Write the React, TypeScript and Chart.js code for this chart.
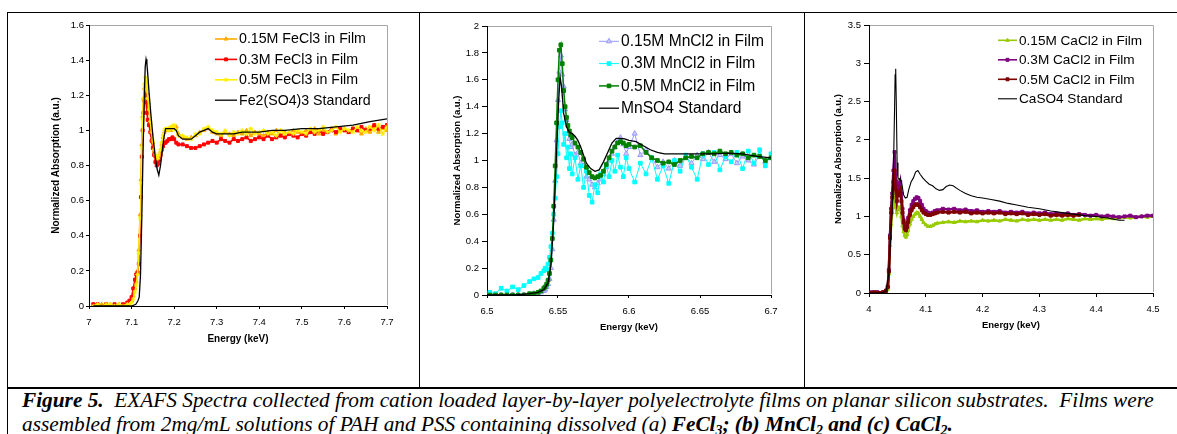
import React, { useEffect, useRef } from "react";
import { Chart, registerables } from "chart.js";

Chart.register(...registerables);

// ---------------- (a) FeCl3 ----------------
const FE_X = [
  7.01, 7.02, 7.03, 7.04, 7.05, 7.06, 7.07, 7.08, 7.09, 7.095, 7.1,
  7.104, 7.108, 7.111, 7.114, 7.117, 7.12, 7.122, 7.124, 7.126, 7.128, 7.13, 7.132, 7.134,
  7.136, 7.138, 7.141, 7.144, 7.147, 7.15, 7.153, 7.156, 7.159, 7.162, 7.165, 7.168, 7.171, 7.174, 7.177, 7.18,
  7.184, 7.188, 7.192, 7.196, 7.2, 7.205,
  7.21, 7.22, 7.23, 7.24, 7.25, 7.26, 7.27, 7.28, 7.29, 7.3,
  7.31, 7.32, 7.33, 7.34, 7.35, 7.36, 7.37, 7.38, 7.39, 7.4,
  7.41, 7.42, 7.43, 7.44, 7.45, 7.46, 7.47, 7.48, 7.49, 7.5,
  7.51, 7.52, 7.53, 7.54, 7.55, 7.56, 7.57, 7.58, 7.59, 7.6,
  7.61, 7.62, 7.63, 7.64, 7.65, 7.66, 7.67, 7.68, 7.69, 7.7,
];
const FE_015 = [
  0.01, 0.0, 0.01, 0.0, 0.01, 0.0, 0.01, 0.0, 0.01, 0.02, 0.03,
  0.06, 0.1, 0.14, 0.2, 0.32, 0.52, 0.72, 0.92, 1.08, 1.18, 1.24, 1.27, 1.25,
  1.21, 1.16, 1.1, 1.04, 0.98, 0.93, 0.88, 0.85, 0.83, 0.83, 0.85, 0.88, 0.92, 0.96, 0.99, 1.0,
  1.0, 1.01, 1.0, 1.02, 1.01, 1.02,
  0.98, 0.96, 0.95, 0.96, 0.97, 0.99, 1.0, 1.01, 0.99, 0.98,
  0.97, 0.99, 0.98, 0.97, 0.99, 0.98, 1.0, 0.97, 0.99, 0.98,
  0.97, 0.99, 0.98, 1.0, 0.97, 0.99, 0.98, 1.0, 0.99, 0.98,
  1.0, 0.99, 1.01, 0.98, 1.0, 0.99, 1.01, 0.98, 1.0, 1.01,
  0.99, 1.01, 1.0, 0.98, 1.01, 0.99, 1.02, 0.99, 1.01, 1.0,
];
const FE_03 = [
  0.01, 0.01, 0.0, 0.01, 0.0, 0.01, 0.0, 0.01, 0.02, 0.03, 0.05,
  0.1, 0.15, 0.18, 0.19, 0.24, 0.4, 0.62, 0.85, 1.0, 1.1, 1.17, 1.2, 1.16,
  1.1, 1.06, 1.03, 0.99, 0.94, 0.9, 0.86, 0.82, 0.8, 0.81, 0.83, 0.86, 0.89, 0.91, 0.93, 0.93,
  0.94, 0.95, 0.95, 0.96, 0.95, 0.93,
  0.92, 0.92, 0.91, 0.9, 0.9, 0.91, 0.92, 0.93, 0.94, 0.93,
  0.95, 0.94, 0.93, 0.95, 0.94, 0.95, 0.96, 0.94, 0.95, 0.96,
  0.95, 0.97, 0.95, 0.96, 0.97, 0.96, 0.98, 0.97, 0.96, 0.98,
  0.97, 0.99, 0.98, 1.0, 0.98, 0.99, 1.0, 0.99, 1.01, 1.0,
  0.99, 1.01, 1.0, 1.02, 1.0, 1.01, 1.03, 1.01, 1.02, 1.03,
];
const FE_05 = [
  0.0, 0.01, 0.0, 0.01, 0.01, 0.0, 0.01, 0.0, 0.01, 0.01, 0.02,
  0.04, 0.08, 0.12, 0.18, 0.3, 0.5, 0.7, 0.9, 1.06, 1.18, 1.26, 1.3, 1.28,
  1.24, 1.18, 1.12, 1.05, 0.99, 0.94, 0.89, 0.86, 0.84, 0.84, 0.86, 0.89, 0.93, 0.97, 1.0, 1.01,
  1.01, 1.0, 1.02, 1.01, 1.03, 1.0,
  0.97, 0.97, 0.96, 0.95, 0.98, 0.98, 1.01, 1.02, 1.0, 0.99,
  0.98, 1.0, 0.97, 0.99, 0.98, 1.0, 0.98, 1.01, 0.98, 0.99,
  1.0, 0.98, 0.99, 0.97, 1.0, 0.98, 0.99, 0.98, 1.0, 0.99,
  0.98, 1.01, 0.99, 1.0, 1.02, 0.99, 1.0, 1.02, 0.99, 1.01,
  1.0, 0.99, 1.02, 1.0, 0.99, 1.02, 1.0, 1.03, 0.98, 1.02,
];
const FE_STD_X = [
  7.01, 7.05, 7.1, 7.11, 7.115, 7.118, 7.121, 7.124, 7.127, 7.13, 7.132, 7.134, 7.136, 7.138, 7.141,
  7.145, 7.15, 7.155, 7.16, 7.164, 7.168, 7.172, 7.176, 7.18, 7.19, 7.2, 7.205, 7.21, 7.22, 7.23,
  7.24, 7.25, 7.26, 7.27, 7.28, 7.29, 7.3, 7.32, 7.34, 7.36, 7.38, 7.4, 7.43, 7.46, 7.5,
  7.54, 7.58, 7.62, 7.66, 7.7,
];
const FE_STD = [
  0, 0, 0, 0.01, 0.03, 0.05, 0.18, 0.5, 0.88, 1.2, 1.36, 1.405, 1.38, 1.32, 1.22,
  1.1, 0.97, 0.86, 0.78, 0.745, 0.8, 0.88, 0.96, 1.01, 1.01, 1.01, 1.0, 0.97, 0.95, 0.95,
  0.95, 0.97, 0.99, 1.0, 1.01, 0.99, 0.98, 0.98, 0.98, 0.99, 0.99, 0.99, 1.0, 1.0, 1.01,
  1.01, 1.02, 1.03, 1.05, 1.065,
];
const FE_XTICKS = [7, 7.1, 7.2, 7.3, 7.4, 7.5, 7.6, 7.7];
const FE_YTICKS = [0, 0.2, 0.4, 0.6, 0.8, 1, 1.2, 1.4, 1.6];
const FE_LABELS = ["0.15M FeCl3 in Film", "0.3M FeCl3 in Film", "0.5M FeCl3 in Film", "Fe2(SO4)3 Standard"];

// ---------------- (b) MnCl2 ----------------
const MN_X = [
  6.502, 6.506, 6.51, 6.514, 6.518, 6.522, 6.526, 6.53, 6.533, 6.536, 6.538, 6.54, 6.541, 6.542, 6.543,
  6.544, 6.545, 6.546, 6.547, 6.548, 6.549, 6.55, 6.551, 6.552, 6.553, 6.554, 6.555, 6.556, 6.557, 6.558,
  6.559, 6.56, 6.562, 6.564, 6.566, 6.568, 6.57, 6.572, 6.574, 6.576, 6.578, 6.58, 6.582, 6.584, 6.586,
  6.588, 6.59, 6.592, 6.594, 6.596, 6.598, 6.6,
  6.604, 6.608, 6.612, 6.616, 6.62, 6.624, 6.628, 6.632, 6.636, 6.64, 6.644, 6.648, 6.652, 6.656, 6.66,
  6.664, 6.668, 6.672, 6.676, 6.68, 6.684, 6.688, 6.692, 6.696, 6.7,
];
const MN_015 = [
  0.0, 0.0, 0.0, 0.0, 0.0, 0.0, 0.0, 0.0, 0.01, 0.01, 0.02, 0.03, 0.04, 0.06, 0.08,
  0.12, 0.2, 0.34, 0.56, 0.85, 1.15, 1.45, 1.66, 1.78, 1.64, 1.55, 1.38, 1.3, 1.2, 1.16,
  1.1, 1.12, 1.04, 1.06, 0.98, 0.96, 0.88, 0.86, 0.82, 0.8, 0.83, 0.86, 0.9, 0.95, 1.0,
  1.05, 1.1, 1.14, 1.17, 1.12, 1.05, 1.1,
  1.2, 1.04, 1.08, 1.02, 0.95, 0.99, 0.94, 1.0, 0.96, 1.03, 0.98, 1.04, 1.01, 1.06, 0.99,
  1.04, 1.01, 1.05, 0.98, 1.03, 1.0, 0.97, 1.04, 0.99, 1.03,
];
const MN_03 = [
  0.02, 0.01, 0.05, 0.03, 0.06, 0.04, 0.07, 0.1, 0.12, 0.13, 0.16, 0.18, 0.2, 0.19, 0.23,
  0.28, 0.36, 0.46, 0.6, 0.72, 0.88, 1.05, 1.25, 1.37, 1.28, 1.12, 1.2, 1.02, 1.1, 0.94,
  1.05, 0.9, 1.02, 0.86, 0.96, 0.8, 0.92, 0.74, 0.69, 0.82, 0.76, 0.9, 0.84, 0.96, 0.88,
  1.0, 0.92, 1.04, 0.95, 0.88, 1.02, 0.94,
  0.84, 0.98, 0.9, 1.02, 0.86, 0.96, 0.83, 1.0, 0.92, 1.04, 0.95, 0.86, 1.05, 0.97, 1.06,
  0.93, 1.03, 0.99, 1.06, 0.94, 1.07, 0.98, 1.08, 0.96, 1.05,
];
const MN_05 = [
  0.0, 0.0, 0.0, 0.0, 0.0, 0.0, 0.0, 0.01, 0.01, 0.02, 0.03, 0.05, 0.06, 0.08, 0.11,
  0.16, 0.26, 0.42, 0.66, 0.96, 1.28, 1.6, 1.82, 1.86, 1.72, 1.52, 1.4, 1.32, 1.26, 1.22,
  1.19, 1.17, 1.13, 1.1, 1.06, 1.01, 0.95, 0.91, 0.88, 0.87, 0.88, 0.89, 0.92, 0.97, 1.02,
  1.07, 1.1, 1.13, 1.14, 1.13, 1.11, 1.12,
  1.1, 1.11, 1.06, 1.02, 1.0, 0.98, 0.99, 0.97, 1.0, 1.02, 1.03, 1.02, 1.05, 1.06, 1.05,
  1.07, 1.05, 1.06, 1.04, 1.05, 1.02, 1.04, 1.03, 1.0, 1.02,
];
const MN_STD_X = [
  6.5, 6.51, 6.52, 6.53, 6.536, 6.54, 6.543, 6.545, 6.547, 6.549, 6.5505, 6.5515, 6.5525, 6.554, 6.556,
  6.558, 6.56, 6.562, 6.564, 6.566, 6.568, 6.57, 6.573, 6.576, 6.579, 6.582, 6.585, 6.588, 6.591, 6.594,
  6.597, 6.6, 6.605, 6.61, 6.615, 6.62, 6.625, 6.63, 6.64, 6.65, 6.66, 6.67, 6.68, 6.69, 6.7,
];
const MN_STD = [
  0.0, 0.0, 0.0, 0.01, 0.02, 0.04, 0.09, 0.22, 0.55, 1.05, 1.45, 1.62, 1.55, 1.35, 1.25,
  1.21, 1.2, 1.18, 1.15, 1.1, 1.04, 0.98, 0.94, 0.92, 0.93, 0.99, 1.06, 1.13, 1.165, 1.165,
  1.16, 1.15, 1.14, 1.11, 1.08, 1.06, 1.05, 1.05, 1.05, 1.05, 1.05, 1.055, 1.05, 1.03, 1.02,
];
const MN_XTICKS = [6.5, 6.55, 6.6, 6.65, 6.7];
const MN_YTICKS = [0, 0.2, 0.4, 0.6, 0.8, 1, 1.2, 1.4, 1.6, 1.8, 2];
const MN_LABELS = ["0.15M MnCl2 in Film", "0.3M MnCl2 in Film", "0.5M MnCl2 in Film", "MnSO4 Standard"];

// ---------------- (c) CaCl2 ----------------
const CA_X = [
  4.0, 4.005, 4.01, 4.015, 4.02, 4.025, 4.03, 4.033, 4.035, 4.037, 4.039, 4.041, 4.043, 4.045, 4.047,
  4.049, 4.051, 4.053, 4.055, 4.057, 4.059, 4.061, 4.063, 4.065, 4.067, 4.069, 4.072, 4.075, 4.078, 4.081,
  4.084, 4.087, 4.09, 4.093, 4.096, 4.1, 4.104, 4.108, 4.112, 4.116, 4.12,
  4.13, 4.14, 4.15, 4.16, 4.17, 4.18, 4.19, 4.2, 4.21, 4.22, 4.23, 4.24, 4.25, 4.26, 4.27,
  4.28, 4.29, 4.3, 4.31, 4.32, 4.33, 4.34, 4.35, 4.36, 4.37, 4.38, 4.39, 4.4, 4.41, 4.42,
  4.43, 4.44, 4.45, 4.46, 4.47, 4.48, 4.49, 4.5,
];
const CA_015 = [
  0.0, -0.01, 0.0, -0.01, 0.0, -0.01, -0.01, 0.05, 0.25, 0.62, 0.9, 1.05, 1.18, 1.25, 1.12,
  1.05, 1.12, 1.1, 1.12, 1.0, 0.88, 0.8, 0.75, 0.73, 0.76, 0.82, 0.9, 0.96, 1.0, 1.03,
  1.05, 1.04, 1.0, 0.96, 0.92, 0.89, 0.87, 0.87, 0.88, 0.9, 0.91,
  0.92, 0.93, 0.92, 0.94, 0.93, 0.94, 0.93, 0.95, 0.94, 0.95, 0.94, 0.96, 0.95, 0.94, 0.96,
  0.95, 0.96, 0.95, 0.96, 0.95, 0.96, 0.95, 0.97, 0.96, 0.95, 0.97, 0.96, 0.97, 0.96, 0.98,
  0.97, 0.98, 0.99, 0.98, 0.99, 1.0, 0.99, 1.0,
];
const CA_03 = [
  0.0, 0.01, 0.0, 0.01, 0.0, 0.01, 0.03, 0.08, 0.3, 0.75, 1.1, 1.3, 1.6, 1.84, 1.55,
  1.3, 1.42, 1.38, 1.45, 1.3, 1.1, 0.95, 0.87, 0.86, 0.9, 0.98, 1.08, 1.15, 1.2, 1.23,
  1.25, 1.24, 1.2, 1.15, 1.1, 1.07, 1.05, 1.04, 1.05, 1.07, 1.08,
  1.1, 1.09, 1.1, 1.08, 1.09, 1.07, 1.08, 1.06, 1.07, 1.06, 1.07, 1.05, 1.06, 1.05, 1.06,
  1.04, 1.05, 1.04, 1.05, 1.03, 1.04, 1.03, 1.04, 1.02, 1.03, 1.02, 1.01, 1.02, 1.0, 1.01,
  1.0, 0.99, 1.0, 1.01, 0.99, 1.0, 1.01, 1.01,
];
const CA_05 = [
  0.0, 0.0, 0.01, 0.0, 0.0, 0.01, 0.03, 0.08, 0.28, 0.72, 1.05, 1.25, 1.45, 1.6, 1.35,
  1.2, 1.3, 1.28, 1.33, 1.2, 1.05, 0.92, 0.84, 0.82, 0.86, 0.93, 1.02, 1.08, 1.12, 1.15,
  1.16, 1.15, 1.12, 1.08, 1.05, 1.03, 1.02, 1.02, 1.03, 1.04, 1.05,
  1.06, 1.05, 1.06, 1.05, 1.06, 1.04, 1.05, 1.04, 1.05, 1.04, 1.05, 1.03, 1.04, 1.03, 1.04,
  1.02, 1.03, 1.02, 1.03, 1.01, 1.02, 1.01, 1.02, 1.01, 1.02,
];
const CA_STD_X = [
  4.0, 4.02, 4.03, 4.035, 4.038, 4.041, 4.043, 4.045, 4.046, 4.047, 4.048, 4.0495, 4.051, 4.053, 4.055,
  4.058, 4.061, 4.064, 4.067, 4.07, 4.074, 4.078, 4.082, 4.086, 4.09, 4.095, 4.1, 4.106, 4.112, 4.118,
  4.124, 4.13, 4.136, 4.142, 4.148, 4.154, 4.16, 4.17, 4.18, 4.19, 4.2, 4.215, 4.23, 4.245, 4.26,
  4.28, 4.3, 4.32, 4.34, 4.36, 4.38, 4.4, 4.42, 4.44, 4.45,
];
const CA_STD = [
  0.0, 0.0, 0.02, 0.25, 0.7, 1.1, 1.6, 2.4, 2.85, 2.93, 2.5, 1.7, 1.5, 1.48, 1.5,
  1.42, 1.28, 1.24, 1.25, 1.35, 1.45, 1.5, 1.58, 1.6, 1.55, 1.5, 1.46, 1.42, 1.4, 1.36,
  1.34, 1.35, 1.39, 1.41, 1.4, 1.37, 1.34, 1.3, 1.27, 1.25, 1.24, 1.22, 1.2, 1.17, 1.15,
  1.12, 1.1, 1.07, 1.05, 1.03, 1.01, 1.0, 0.98, 0.95, 0.95,
];
const CA_XTICKS = [4, 4.1, 4.2, 4.3, 4.4, 4.5];
const CA_YTICKS = [0, 0.5, 1, 1.5, 2, 2.5, 3, 3.5];
const CA_LABELS = ["0.15M CaCl2 in Film", "0.3M CaCl2 in Film", "0.5M CaCl2 in Film", "CaSO4 Standard"];

const X_TITLE = "Energy (keV)";
const Y_TITLE = "Normalized Absorption (a.u.)";

const SANS = '"Liberation Sans", Arial, sans-serif';

function pts(xs: number[], ys: number[]) {
  return ys.map((y, i) => ({ x: xs[i], y }));
}

function fmt(v: any) {
  return String(Math.round(Number(v) * 1000) / 1000);
}

function drawMarker(ctx: CanvasRenderingContext2D, style: string, x: number, y: number, r: number, fill: string, stroke: string) {
  if (!style || style === "none" || r <= 0) return;
  ctx.save();
  ctx.fillStyle = fill;
  ctx.strokeStyle = stroke;
  ctx.lineWidth = 1;
  ctx.beginPath();
  if (style === "triangle") {
    for (let k = 0; k < 3; k++) {
      const a = (k * 2 * Math.PI) / 3;
      const px = x + Math.sin(a) * r;
      const py = y - Math.cos(a) * r;
      if (k === 0) ctx.moveTo(px, py);
      else ctx.lineTo(px, py);
    }
    ctx.closePath();
    ctx.fill();
    ctx.stroke();
  } else if (style === "rect") {
    const s = r * Math.SQRT1_2;
    ctx.rect(x - s, y - s, 2 * s, 2 * s);
    ctx.fill();
    ctx.stroke();
  } else if (style === "star") {
    ctx.moveTo(x - r, y);
    ctx.lineTo(x + r, y);
    ctx.moveTo(x, y - r);
    ctx.lineTo(x, y + r);
    const d = r * Math.SQRT1_2;
    ctx.moveTo(x - d, y - d);
    ctx.lineTo(x + d, y + d);
    ctx.moveTo(x - d, y + d);
    ctx.lineTo(x + d, y - d);
    ctx.stroke();
  }
  ctx.restore();
}

const framePlugin = {
  id: "exafsLegend",
  beforeDatasetsDraw(chart: any) {
    const { ctx, chartArea: a } = chart;
    ctx.save();
    ctx.strokeStyle = "#a6a6a6";
    ctx.lineWidth = 1;
    ctx.beginPath();
    ctx.moveTo(a.left + 1, Math.round(a.top) + 0.5);
    ctx.lineTo(Math.round(a.right) + 0.5, Math.round(a.top) + 0.5);
    ctx.lineTo(Math.round(a.right) + 0.5, a.bottom - 1);
    ctx.stroke();
    ctx.restore();
  },
  afterDraw(chart: any, _args: any, opts: any) {
    const { ctx, chartArea: a } = chart;
    ctx.save();
    ctx.font = `${opts.fontSize}px ${SANS}`;
    ctx.textBaseline = "middle";
    ctx.textAlign = "left";
    chart.data.datasets.forEach((d: any, i: number) => {
      const y = a.top + opts.top + i * opts.step;
      const x0 = a.left + opts.left;
      ctx.save();
      ctx.strokeStyle = d.borderColor;
      ctx.lineWidth = Math.min(d.borderWidth, 1.6);
      ctx.beginPath();
      ctx.moveTo(x0, y);
      ctx.lineTo(x0 + opts.len, y);
      ctx.stroke();
      ctx.restore();
      drawMarker(ctx, d.pointStyle, x0 + opts.len / 2, y, d.pointRadius, d.pointBackgroundColor, d.pointBorderColor);
      ctx.fillStyle = "#000";
      ctx.fillText(d.label, x0 + opts.len + opts.gap, y + 0.5);
    });
    ctx.restore();
  },
};

function axis(o: any) {
  return {
    type: "linear",
    min: o.min,
    max: o.max,
    afterBuildTicks: (s: any) => {
      s.ticks = o.ticks.map((v: number) => ({ value: v }));
    },
    afterFit: (s: any) => {
      if (o.horizontal) s.height = o.size;
      else s.width = o.size;
    },
    ticks: {
      color: "#000",
      font: { family: SANS, size: o.tickFont },
      padding: o.pad,
      autoSkip: false,
      maxRotation: 0,
      minRotation: 0,
      callback: (v: any) => fmt(v),
    },
    grid: {
      display: true,
      drawOnChartArea: false,
      drawTicks: true,
      tickLength: o.tickLen,
      tickColor: "#000",
      color: "#000",
    },
    border: { display: true, color: "#000", width: 1 },
    title: {
      display: true,
      text: o.title,
      color: "#000",
      padding: 0,
      font: { family: SANS, size: o.titleFont, weight: "bold" },
    },
  };
}

function ds(label: string, data: any[], color: string, width: number, style: string, radius: number, fill: string, order: number) {
  return {
    label,
    data,
    borderColor: color,
    backgroundColor: fill,
    borderWidth: width,
    pointStyle: style === "none" ? false : style,
    pointRadius: style === "none" ? 0 : radius,
    pointBackgroundColor: fill,
    pointBorderColor: color,
    pointBorderWidth: 1,
    tension: 0,
    fill: false,
    order,
  };
}

const PANELS = [
  {
    key: "fe",
    canvas: { left: 8, top: 13, w: 411, h: 374 },
    area: { l: 81, t: 12, r: 379, b: 293 },
    yW: 39,
    xH: 39,
    x: { min: 7, max: 7.7, ticks: FE_XTICKS, tickLen: 3, pad: 8 },
    y: { min: 0, max: 1.6, ticks: FE_YTICKS, tickLen: 3, pad: 2 },
    tickFont: 9.5,
    titleFont: 10,
    legend: { left: 126, top: 14, step: 20.4, len: 22, gap: 2, fontSize: 14.2 },
    datasets: [
      ds(FE_LABELS[0], pts(FE_X, FE_015), "#FFAA00", 1.6, "triangle", 2.2, "#FFAA00", 3),
      ds(FE_LABELS[1], pts(FE_X, FE_03), "#FF0000", 1.6, "rect", 2.1, "#FF0000", 2),
      ds(FE_LABELS[2], pts(FE_X, FE_05), "#FFEE00", 1.6, "star", 2.2, "#FFEE00", 1),
      ds(FE_LABELS[3], pts(FE_STD_X, FE_STD), "#000000", 1.3, "none", 0, "#000000", 0),
    ],
  },
  {
    key: "mn",
    canvas: { left: 420, top: 13, w: 384, h: 374 },
    area: { l: 67, t: 13, r: 351, b: 282 },
    yW: 35,
    xH: 38,
    x: { min: 6.5, max: 6.7, ticks: MN_XTICKS, tickLen: 3, pad: 7.5 },
    y: { min: 0, max: 2, ticks: MN_YTICKS, tickLen: 5, pad: 3 },
    tickFont: 9.5,
    titleFont: 9.5,
    legend: { left: 112, top: 15.3, step: 22.3, len: 20, gap: 2, fontSize: 15.6 },
    datasets: [
      ds(MN_LABELS[0], pts(MN_X, MN_015), "#9999FF", 1, "triangle", 3, "#CCCCFF", 3),
      ds(MN_LABELS[1], pts(MN_X, MN_03), "#00FFFF", 1, "rect", 2.6, "#00FFFF", 2),
      ds(MN_LABELS[2], pts(MN_X, MN_05), "#008000", 1.5, "rect", 2.6, "#008000", 1),
      ds(MN_LABELS[3], pts(MN_STD_X, MN_STD), "#000000", 1.3, "none", 0, "#000000", 0),
    ],
  },
  {
    key: "ca",
    canvas: { left: 805, top: 13, w: 372, h: 374 },
    area: { l: 64, t: 12, r: 348, b: 280 },
    yW: 36,
    xH: 38,
    x: { min: 4, max: 4.5, ticks: CA_XTICKS, tickLen: 4, pad: 7 },
    y: { min: 0, max: 3.5, ticks: CA_YTICKS, tickLen: 5, pad: 3 },
    tickFont: 9.5,
    titleFont: 9.5,
    legend: { left: 129, top: 15.3, step: 19.5, len: 19, gap: 2, fontSize: 13.6 },
    datasets: [
      ds(CA_LABELS[0], pts(CA_X, CA_015), "#99CC00", 2.6, "triangle", 2, "#99CC00", 3),
      ds(CA_LABELS[1], pts(CA_X, CA_03), "#800080", 2.6, "rect", 2.1, "#800080", 2),
      ds(CA_LABELS[2], pts(CA_X, CA_05), "#800000", 2.6, "rect", 2.1, "#800000", 1),
      ds(CA_LABELS[3], pts(CA_STD_X, CA_STD), "#000000", 1.1, "none", 0, "#000000", 0),
    ],
  },
];

function Panel({ p }: { p: any }) {
  const ref = useRef<HTMLCanvasElement | null>(null);
  useEffect(() => {
    if (!ref.current) return;
    const c = p.canvas;
    const a = p.area;
    const chart = new Chart(ref.current, {
      type: "line",
      data: { datasets: p.datasets },
      plugins: [framePlugin],
      options: {
        animation: false,
        responsive: false,
        devicePixelRatio: 1,
        events: [],
        layout: {
          padding: {
            left: a.l - p.yW,
            top: a.t,
            right: c.w - a.r,
            bottom: c.h - a.b - p.xH,
          },
        },
        scales: {
          x: axis({ ...p.x, horizontal: true, size: p.xH, tickFont: p.tickFont, titleFont: p.titleFont, title: X_TITLE }),
          y: axis({ ...p.y, horizontal: false, size: p.yW, tickFont: p.tickFont, titleFont: p.titleFont, title: Y_TITLE }),
        },
        plugins: {
          legend: { display: false },
          tooltip: { enabled: false },
          exafsLegend: p.legend,
        },
      } as any,
    } as any);
    return () => chart.destroy();
  }, []);
  return (
    <canvas
      ref={ref}
      width={p.canvas.w}
      height={p.canvas.h}
      style={{ position: "absolute", left: p.canvas.left, top: p.canvas.top, width: p.canvas.w, height: p.canvas.h }}
    />
  );
}

const line = (left: number, top: number, width: number, height: number) => (
  <div style={{ position: "absolute", left, top, width, height, background: "#000" }} />
);

const sub = (t: string) => (
  <span style={{ fontSize: "0.65em", position: "relative", top: "0.3em" }}>{t}</span>
);

export default function App() {
  return (
    <div
      style={{
        position: "fixed",
        left: 0,
        top: 0,
        width: 1177,
        height: 434,
        overflow: "hidden",
        background: "#fff",
      }}
    >
      {line(7, 12, 1170, 1)}
      {line(7, 12, 1, 422)}
      {line(419, 12, 1, 376)}
      {line(804, 12, 1, 376)}
      {line(7, 387, 1170, 2)}
      {PANELS.map((p) => (
        <Panel key={p.key} p={p} />
      ))}
      <div
        style={{
          position: "absolute",
          left: 22,
          top: 388,
          fontFamily: '"Liberation Serif", "Times New Roman", serif',
          fontStyle: "italic",
          fontSize: 21.3,
          lineHeight: "24px",
          whiteSpace: "pre",
          color: "#000",
        }}
      >
        <b>Figure 5.</b>
        {"  EXAFS Spectra collected from cation loaded layer-by-layer polyelectrolyte films on planar silicon substrates.  Films were"}
        <br />
        {"assembled from 2mg/mL solutions of PAH and PSS containing dissolved (a) "}
        <b>
          FeCl{sub("3")}; (b) MnCl{sub("2")} and (c) CaCl{sub("2")}.
        </b>
      </div>
    </div>
  );
}
